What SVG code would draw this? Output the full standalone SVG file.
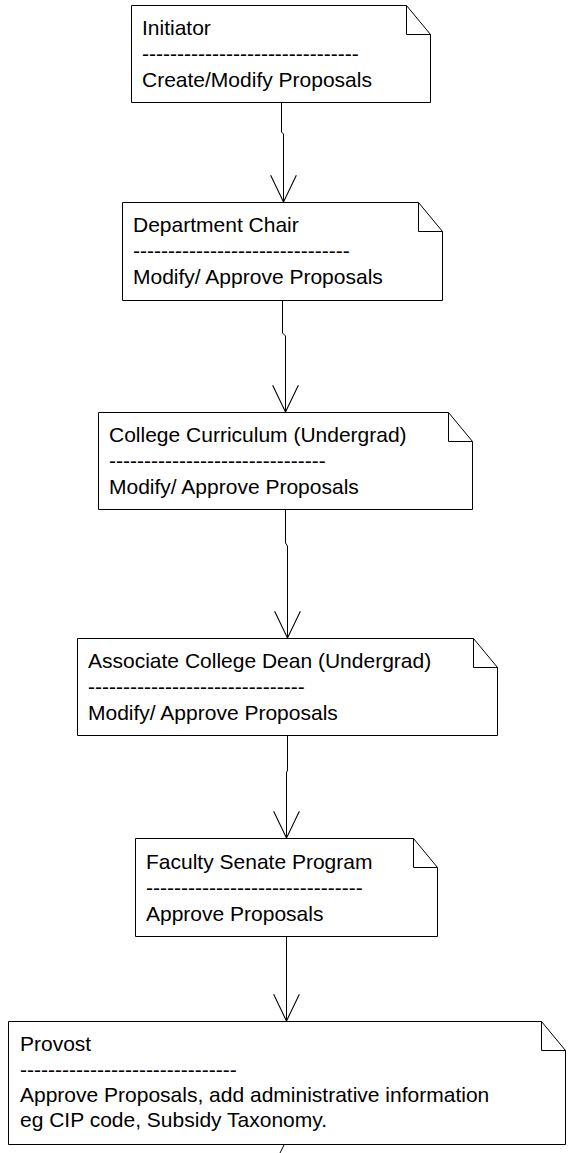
<svg xmlns="http://www.w3.org/2000/svg" width="572" height="1153" viewBox="0 0 572 1153">
  <style>
    .note { fill: #ffffff; stroke: #000000; stroke-width: 1; }
    .fold { fill: none; stroke: #000000; stroke-width: 1; }
    .label { font-family: "Liberation Sans", Arial, sans-serif; font-size: 21px; fill: #000000; }
    .conn { fill: none; stroke: #000000; stroke-width: 1; }
  </style>
  <defs>
    <marker id="openArrow" markerUnits="userSpaceOnUse" markerWidth="30" markerHeight="30" viewBox="-26 -14 28 28" refX="0" refY="0" orient="auto">
      <path d="M-25,-12 L0,0 L-25,12" fill="none" stroke="#000000" stroke-width="1"/>
    </marker>
  </defs>
  <rect width="572" height="1153" fill="#ffffff"/>

  <g id="connectors">
    <path class="conn" d="M281.5,102 L281.5,132 L283.5,134 L283.5,202" marker-end="url(#openArrow)"/>
    <path class="conn" d="M282.5,300 L282.5,333 L285.5,336 L285.5,412" marker-end="url(#openArrow)"/>
    <path class="conn" d="M285.5,509 L285.5,543 L287.5,546 L287.5,638" marker-end="url(#openArrow)"/>
    <path class="conn" d="M287.5,735 L287.5,771 L286.5,772 L286.5,838" marker-end="url(#openArrow)"/>
    <path class="conn" d="M286.5,936 L286.5,1021" marker-end="url(#openArrow)"/>
    <path class="conn" d="M284.5,1144 L280,1153"/>
  </g>

  <g id="node-initiator">
    <path class="note" d="M131.5,5.5 L406.5,5.5 L430.5,34.5 L430.5,102.5 L131.5,102.5 Z"/>
    <path class="fold" d="M406.5,5.5 L406.5,34.5 L430.5,34.5"/>
    <text class="label" x="142" y="35">Initiator</text>
    <text class="label" x="142" y="61">-------------------------------</text>
    <text class="label" x="142" y="87">Create/Modify Proposals</text>
  </g>

  <g id="node-department-chair">
    <path class="note" d="M122.5,202.5 L418.5,202.5 L442.5,231.5 L442.5,300.5 L122.5,300.5 Z"/>
    <path class="fold" d="M418.5,202.5 L418.5,231.5 L442.5,231.5"/>
    <text class="label" x="133" y="232">Department Chair</text>
    <text class="label" x="133" y="258">-------------------------------</text>
    <text class="label" x="133" y="284">Modify/ Approve Proposals</text>
  </g>

  <g id="node-college-curriculum">
    <path class="note" d="M98.5,412.5 L448.5,412.5 L472.5,441.5 L472.5,509.5 L98.5,509.5 Z"/>
    <path class="fold" d="M448.5,412.5 L448.5,441.5 L472.5,441.5"/>
    <text class="label" x="109" y="442">College Curriculum (Undergrad)</text>
    <text class="label" x="109" y="468">-------------------------------</text>
    <text class="label" x="109" y="494">Modify/ Approve Proposals</text>
  </g>

  <g id="node-associate-dean">
    <path class="note" d="M77.5,638.5 L473.5,638.5 L497.5,667.5 L497.5,735.5 L77.5,735.5 Z"/>
    <path class="fold" d="M473.5,638.5 L473.5,667.5 L497.5,667.5"/>
    <text class="label" x="88" y="668">Associate College Dean (Undergrad)</text>
    <text class="label" x="88" y="694">-------------------------------</text>
    <text class="label" x="88" y="720">Modify/ Approve Proposals</text>
  </g>

  <g id="node-faculty-senate">
    <path class="note" d="M135.5,838.5 L413.5,838.5 L437.5,867.5 L437.5,936.5 L135.5,936.5 Z"/>
    <path class="fold" d="M413.5,838.5 L413.5,867.5 L437.5,867.5"/>
    <text class="label" x="146" y="869">Faculty Senate Program</text>
    <text class="label" x="146" y="895">-------------------------------</text>
    <text class="label" x="146" y="921">Approve Proposals</text>
  </g>

  <g id="node-provost">
    <path class="note" d="M8.5,1021.5 L541.5,1021.5 L565.5,1050.5 L565.5,1144.5 L8.5,1144.5 Z"/>
    <path class="fold" d="M541.5,1021.5 L541.5,1050.5 L565.5,1050.5"/>
    <text class="label" x="20" y="1051">Provost</text>
    <text class="label" x="20" y="1077">-------------------------------</text>
    <text class="label" x="20" y="1102">Approve Proposals, add administrative information</text>
    <text class="label" x="20" y="1127">eg CIP code, Subsidy Taxonomy.</text>
  </g>
</svg>
